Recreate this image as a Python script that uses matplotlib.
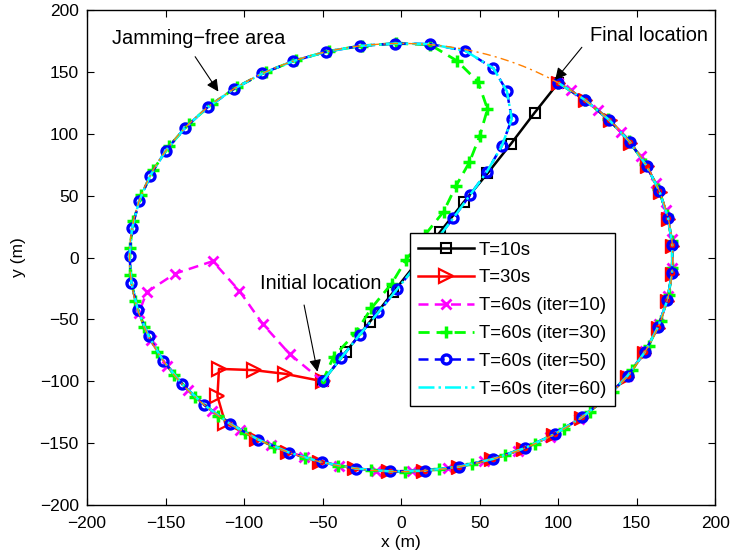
import numpy as np
import matplotlib
matplotlib.use("Agg")
import matplotlib.pyplot as plt
from matplotlib.patches import Circle

plt.rcParams['font.family'] = ['Liberation Sans', 'DejaVu Sans']

# ---------------- data ----------------
R = 173.0  # radius of the jamming-free area (m)

# T=10s : straight path
black_x = [-50, -35, -20, -5, 10, 25, 40, 55, 70, 85, 100]
black_y = [-100, -76, -52, -28, -4, 21, 45, 68, 92, 117, 141]

# T=30s : inner part then along the boundary (angles in degrees)
red_x = [-50, -74, -94, -116, -117, -112]
red_y = [-100, -94, -91, -90, -112, -134]
red_ang = [237.8, 245.1, 252.5, 259.9, 267.3, 274.6, 282.0, 289.4, 296.7, 304.1,
           311.5, 318.8, 326.2, 333.6, 340.9, 348.3, 355.7, 3.0, 10.4, 17.8,
           25.2, 32.5, 39.9, 47.3, 54.6]

# T=60s (iter=10)
mag_x = [-50, -71, -88, -103, -120, -144, -162]
mag_y = [-100, -78, -54, -27, -3, -13, -28]
mag_ang = [195.0, 202.7, 210.5, 218.2, 225.9, 233.7, 241.4, 249.1, 256.8, 264.6,
           272.3, 280.0, 287.8, 295.5, 303.2, 310.9, 318.7, 326.4, 334.1, 341.9,
           349.6, 357.3, 5.0, 12.7, 20.5, 28.2, 35.9, 43.7, 51.4, 54.6]

# T=60s (iter=30)
grn_x = [-50, -43, -29, -19, -6, 3, 15, 27, 35, 43.5, 50, 55, 49, 35.5]
grn_y = [-100, -80, -61, -41, -21, -2, 18, 37, 58, 77, 98, 120, 142, 159]
grn_ang = [83.9, 91.1, 98.3, 105.5, 112.7, 119.9, 127.1, 134.2, 141.4, 148.6,
           155.8, 163.0, 170.2, 177.4, 184.6, 191.8, 199.0, 206.1, 213.3, 220.5,
           227.7, 234.9, 242.1, 249.3, 256.5, 263.7, 270.9, 278.1, 285.2, 292.4,
           299.6, 306.8, 314.0, 321.2, 328.4, 335.6, 342.8, 350.0, 357.2, 4.3,
           11.5, 18.7, 25.9, 33.1, 40.3, 47.5, 54.6]

# T=60s (iter=50)
blu_x = [-50, -38.4, -26.5, -14.5, -2.7, 9.2, 21.1, 33.3, 43.9, 54.6, 64.1,
         70.5, 67.3, 58.8, 40.8, 18.5]
blu_y = [-100, -81.5, -62.6, -44.3, -25.7, -7, 12, 32, 50.5, 69.3, 90.1,
         112, 134.5, 152.9, 167.1, 172.5]
blu_ang = [91.3, 98.7, 106.0, 113.4, 120.7, 128.1, 135.4, 142.8, 150.1, 157.5,
           164.8, 172.2, 179.5, 186.9, 194.2, 201.6, 208.9, 216.3, 223.6, 231.0,
           238.3, 245.7, 253.0, 260.4, 267.7, 275.1, 282.4, 289.8, 297.1, 304.5,
           311.8, 319.2, 326.5, 333.9, 341.2, 348.6, 355.9, 3.3, 10.6, 18.0,
           25.3, 32.7, 40.0, 47.4, 54.6]

# T=60s (iter=60) follows the same route as iter=50
cyn_x = list(blu_x)
cyn_y = list(blu_y)
cyn_ang = list(blu_ang)

labels = ['T=10s', 'T=30s', 'T=60s (iter=10)', 'T=60s (iter=30)',
          'T=60s (iter=50)', 'T=60s (iter=60)']


def route(px, py, ang):
    a = np.deg2rad(np.asarray(ang, dtype=float))
    return (np.concatenate([px, R * np.cos(a)]),
            np.concatenate([py, R * np.sin(a)]))


# ---------------- figure ----------------
fig = plt.figure(figsize=(7.32, 5.58), dpi=100)
ax = fig.add_axes([0.119, 0.095, 0.858, 0.887])

lw = 1.8
ax.plot(black_x, black_y, color='k', lw=lw, marker='s', ms=6.5,
        mfc='none', mec='k', mew=1.5, label=labels[0])
rx, ry = route(red_x, red_y, red_ang)
n_in = len(red_x)
ax.plot(rx, ry, color='#FF0000', lw=lw, marker='>', ms=9.5,
        mfc='none', mec='#FF0000', mew=1.6, markevery=list(range(n_in)),
        label=labels[1])
mx, my = route(mag_x, mag_y, mag_ang)
ax.plot(mx, my, color='#FF00FF', lw=lw, ls='--', dashes=(4, 2.5), marker='x',
        ms=7, mew=2, label=labels[2])
gx, gy = route(grn_x, grn_y, grn_ang)
ax.plot(gx, gy, color='#00FF00', lw=2.0, ls='--', dashes=(4, 2.5), marker='+',
        ms=9, mew=2.5, label=labels[3])
# markers of T=30s on the boundary look solid in the reference
ax.plot(rx[n_in:], ry[n_in:], ls='none', marker='>', ms=10,
        mfc='#FF0000', mec='#FF0000', mew=1.0)
bx, by = route(blu_x, blu_y, blu_ang)
ax.plot(bx, by, color='#0000FF', lw=lw, ls='--', dashes=(4, 2.5), marker='o',
        ms=6.5, mfc='none', mec='#0000FF', mew=2.4, label=labels[4])
cx, cy = route(cyn_x, cyn_y, cyn_ang)
ax.plot(cx, cy, color='#00FFFF', lw=lw, ls='-.', label=labels[5])

ax.add_patch(Circle((0, 0), R, fill=False, edgecolor='#FF8000', lw=1.0,
                    ls=(0, (6, 3, 1.5, 3)), zorder=5))

ax.set_xlim(-200, 200)
ax.set_ylim(-200, 200)
ax.set_xticks(np.arange(-200, 201, 50))
ax.set_yticks(np.arange(-200, 201, 50))
ax.tick_params(direction='in', length=5, width=0.8, top=True, right=True,
               labelsize=12.5)
ax.tick_params(axis='x', pad=8)
ax.tick_params(axis='y', pad=6)
for s in ax.spines.values():
    s.set_linewidth(1.0)
ax.set_xlabel('x (m)', fontsize=12.5, labelpad=3)
ax.set_ylabel('y (m)', fontsize=12.5, labelpad=10)

leg = ax.legend(loc='upper left', bbox_to_anchor=(0.514, 0.549),
                borderaxespad=0, fontsize=13.4, handlelength=3.0,
                labelspacing=0.58, handletextpad=0.25, borderpad=0.45,
                fancybox=False, framealpha=1, edgecolor='k')
leg.get_frame().set_linewidth(1.0)

arrow = dict(arrowstyle='-|>', color='k', lw=0.8, mutation_scale=18,
             shrinkA=0, shrinkB=0)
ax.text(-129, 177.4, 'Jamming\u2212free area', fontsize=14.4,
        ha='center', va='center')
ax.annotate('', xy=(-116.4, 134.1), xytext=(-131.2, 162.3), arrowprops=arrow)
ax.text(157.8, 179.8, 'Final location', fontsize=14.4, ha='center', va='center')
ax.annotate('', xy=(98.1, 143.4), xytext=(115.1, 169.9), arrowprops=arrow)
ax.text(-51.3, -20.9, 'Initial location', fontsize=14.4, ha='center', va='center')
ax.annotate('', xy=(-53.3, -92.3), xytext=(-61.8, -38.4), arrowprops=arrow)

fig.savefig('out.png', dpi=100)
